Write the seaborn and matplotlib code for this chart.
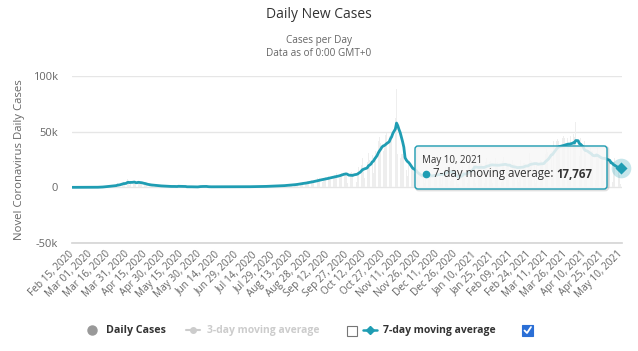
import numpy as np
import pandas as pd
import matplotlib.pyplot as plt
import seaborn as sns
from matplotlib.patches import FancyBboxPatch, Rectangle
from matplotlib.lines import Line2D
from matplotlib.text import Annotation

# daily new cases, one row per week, starting Sat Feb 15, 2020
daily_cases = [
    0, 0, 0, 0, 0, 0, 0,
    0, 0, 0, 2, 4, 20, 19,
    43, 30, 61, 21, 73, 138, 190,
    93, 286, 372, 497, 595, 785, 838,
    924, 1210, 1097, 1404, 1861, 1617, 1847,
    1559, 1559, 3838, 2446, 2931, 3922, 3809,
    4611, 2599, 4376, 7578, 4861, 2116, 5233,
    4300, 4000, 5000, 4300, 3900, 5000, 4300,
    3500, 2900, 2700, 2600, 2500, 2300, 2200,
    2000, 1800, 1500, 1800, 1600, 1500, 1400,
    1300, 1100, 900, 1200, 1100, 1000, 900,
    800, 600, 500, 900, 1000, 1100, 900,
    600, 400, 300, 2200, 800, 600, 500,
    500, 300, 500, 400, 600, 700, 500,
    400, 300, 200, 300, 400, 600, 1800,
    1100, 900, 300, 400, 500, 700, 600,
    500, 400, 300, 400, 500, 600, 500,
    400, 300, 200, 400, 500, 600, 500,
    500, 400, 300, 500, 600, 700, 500,
    500, 400, 300, 600, 700, 800, 600,
    600, 400, 300, 600, 700, 800, 600,
    700, 500, 400, 700, 800, 900, 700,
    900, 600, 500, 900, 1100, 1200, 1000,
    1300, 900, 800, 1300, 1400, 1600, 1300,
    1600, 1100, 900, 1600, 1800, 2000, 1800,
    2200, 1500, 1200, 2200, 2500, 2800, 2600,
    3200, 2400, 2000, 3400, 3800, 4200, 3900,
    4500, 3300, 2800, 4700, 5400, 6000, 5500,
    6500, 4500, 3500, 6200, 7000, 8000, 7500,
    8500, 6000, 5000, 7500, 8800, 9500, 9000,
    10500, 8000, 6500, 9500, 10500, 11000, 10500,
    13000, 9500, 8000, 12000, 13000, 14000, 13000,
    14000, 10500, 4000, 8000, 12500, 13500, 12500,
    17000, 12500, 5000, 10500, 18500, 18000, 20000,
    26000, 16000, 8000, 12500, 22500, 30500, 25000,
    32000, 29000, 13000, 26000, 33000, 41000, 42000,
    45000, 40000, 26000, 33000, 36000, 47000, 49000,
    50000, 46000, 44000, 46000, 58000, 60000, 62000,
    88000, 30000, 20000, 26000, 30000, 30000, 28000,
    22000, 16000, 10000, 20000, 20000, 18000, 17000,
    15000, 12000, 5000, 9000, 13000, 12500, 11000,
    10000, 11000, 4000, 8000, 14000, 12500, 11000,
    12000, 11000, 3500, 11000, 14000, 13500, 13500,
    14000, 12000, 3000, 11500, 17000, 18000, 15000,
    18000, 12000, 5500, 12000, 15000, 17000, 4000,
    12000, 3000, 3000, 11000, 20000, 19000, 16000,
    12000, 3000, 4000, 20000, 25000, 21000, 20000,
    21000, 17000, 4000, 19000, 23000, 21000, 21000,
    21000, 16000, 4000, 23000, 26000, 23000, 23000,
    24000, 18000, 4000, 22000, 26000, 22000, 23000,
    24000, 19000, 4500, 24000, 27000, 23000, 22000,
    20500, 19000, 4000, 18000, 25000, 21000, 21000,
    19000, 16000, 4500, 18800, 25000, 22000, 22000,
    22000, 20000, 4000, 20000, 31000, 25000, 24000,
    23000, 22000, 4000, 20000, 27000, 26000, 25000,
    24000, 22000, 6000, 30000, 34000, 32000, 33000,
    36000, 33000, 8000, 42000, 44000, 42000, 43000,
    42000, 36000, 10000, 44000, 46000, 44000, 46000,
    44000, 38000, 10000, 46000, 48000, 48000, 45000,
    59000, 38000, 9000, 28000, 44000, 40000, 38000,
    42000, 30000, 8000, 24000, 38000, 35000, 33000,
    33000, 28000, 7000, 30000, 35000, 30000, 28000,
    28000, 25000, 6000, 31000, 30000, 27000, 26000,
    24000, 10000, 4500, 21000, 26000, 22000, 21000,
    20000, 11500, 2869,
]

tick_labels = [
    "Feb 15, 2020", "Mar 01, 2020", "Mar 16, 2020", "Mar 31, 2020",
    "Apr 15, 2020", "Apr 30, 2020", "May 15, 2020", "May 30, 2020",
    "Jun 14, 2020", "Jun 29, 2020", "Jul 14, 2020", "Jul 29, 2020",
    "Aug 13, 2020", "Aug 28, 2020", "Sep 12, 2020", "Sep 27, 2020",
    "Oct 12, 2020", "Oct 27, 2020", "Nov 11, 2020", "Nov 26, 2020",
    "Dec 11, 2020", "Dec 26, 2020", "Jan 10, 2021", "Jan 25, 2021",
    "Feb 09, 2021", "Feb 24, 2021", "Mar 11, 2021", "Mar 26, 2021",
    "Apr 10, 2021", "Apr 25, 2021", "May 10, 2021",
]
y_ticks = [-50000, 0, 50000, 100000]
y_tick_labels = ["-50k", "0", "50k", "100k"]

TEAL = "#1f9db3"
W, H = 638, 351


def fx(x):
    return x / W


def fy(y):
    return 1 - y / H


df = pd.DataFrame({"day": np.arange(len(daily_cases)), "cases": daily_cases})
df["avg7"] = df["cases"].rolling(7, min_periods=1).mean()

sns.set_theme(style="white")
plt.rcParams["font.family"] = ["Open Sans", "DejaVu Sans"]

fig = plt.figure(figsize=(W / 100, H / 100), dpi=100)
ax = fig.add_axes([fx(72), fy(243), (622 - 72) / W, (243 - 76) / H])

sns.barplot(data=df, x="day", y="cases", color="#eeeeee", width=0.6,
            linewidth=0, saturation=1, ax=ax)
sns.lineplot(data=df, x="day", y="avg7", color=TEAL, linewidth=2, ax=ax)

last = df.iloc[-1]
ax.scatter([last["day"]], [last["avg7"]], s=200, color=TEAL, alpha=0.25,
           linewidths=0, zorder=6, clip_on=False)
ax.scatter([last["day"]], [last["avg7"]], s=38, marker="D", color=TEAL,
           linewidths=0, zorder=7, clip_on=False)

ax.set_xlim(-0.3, 451)
ax.set_ylim(-50000, 100000)
ax.set_xticks(range(0, len(daily_cases), 15))
ax.set_xticklabels(tick_labels, rotation=45, ha="right", va="center",
                   rotation_mode="anchor", fontsize=7.2, color="#666666")
ax.set_yticks(y_ticks)
ax.set_yticklabels(y_tick_labels, fontsize=8, color="#666666")
ax.tick_params(axis="both", length=0)
ax.tick_params(axis="x", pad=7)
ax.tick_params(axis="y", pad=10)
ax.yaxis.grid(True, color="#e6e6e6", linewidth=1)
ax.xaxis.grid(False)
for side in ["top", "right", "left"]:
    ax.spines[side].set_visible(False)
ax.spines["bottom"].set_color("#d6d6d6")
ax.set_xlabel("")
ax.set_ylabel("Novel Coronavirus Daily Cases", fontsize=8.2, color="#666666")
ax.yaxis.set_label_coords(-0.086, 0.5)

# titles
fig.text(fx(319), fy(15), "Daily New Cases", ha="center", va="center",
         fontsize=10, color="#333333")
fig.text(fx(319), fy(41), "Cases per Day", ha="center", va="center",
         fontsize=7.2, color="#666666")
fig.text(fx(319), fy(54), "Data as of 0:00 GMT+0", ha="center", va="center",
         fontsize=7.2, color="#666666")

# tooltip
bx0, bx1, by0, by1 = 415, 607, 146, 189
shadow = FancyBboxPatch((fx(bx0 + 1), fy(by1 + 1)), (bx1 - bx0) / W, (by1 - by0) / H,
                        boxstyle="round,pad=0,rounding_size=0.0047", mutation_aspect=W / H,
                        transform=fig.transFigure, facecolor="none",
                        edgecolor=(0, 0, 0, 0.12), linewidth=2, zorder=9)
box = FancyBboxPatch((fx(bx0), fy(by1)), (bx1 - bx0) / W, (by1 - by0) / H,
                     boxstyle="round,pad=0,rounding_size=0.0047", mutation_aspect=W / H,
                     transform=fig.transFigure, facecolor=(0.97, 0.97, 0.97, 0.85),
                     edgecolor=TEAL, linewidth=1, zorder=10)
fig.add_artist(shadow)
fig.add_artist(box)
fig.text(fx(422), fy(160), "May 10, 2021", ha="left", va="center",
         fontsize=7, color="#333333", zorder=11)
fig.add_artist(Line2D([fx(426)], [fy(174)], marker="o", markersize=4.5,
                      color=TEAL, transform=fig.transFigure, zorder=11))
t1 = fig.text(fx(433), fy(174), "7-day moving average: ", ha="left", va="center",
              fontsize=8.3, color="#333333", zorder=11)
value = Annotation(f"{last['avg7']:,.0f}", xy=(1, 0.5), xycoords=t1, ha="left",
                   va="center", fontsize=8.3, fontweight="bold", color="#333333",
                   annotation_clip=False)
value.set_zorder(11)
fig.add_artist(value)

# legend
ly = 330
fig.add_artist(Line2D([fx(92)], [fy(ly)], marker="o", markersize=6.5,
                      color="#999999", transform=fig.transFigure))
fig.text(fx(106), fy(ly), "Daily Cases", ha="left", va="center",
         fontsize=7.7, fontweight="bold", color="#333333")
fig.add_artist(Line2D([fx(186), fx(200)], [fy(ly), fy(ly)], color="#cccccc",
                      linewidth=1.5, transform=fig.transFigure))
fig.add_artist(Line2D([fx(193)], [fy(ly)], marker="o", markersize=4,
                      color="#cccccc", transform=fig.transFigure))
fig.text(fx(207), fy(ly), "3-day moving average", ha="left", va="center",
         fontsize=7.5, fontweight="bold", color="#cccccc")
fig.add_artist(Rectangle((fx(347), fy(336)), 10 / W, 10 / H, facecolor="white",
                         edgecolor="#767676", linewidth=0.8, transform=fig.transFigure))
fig.add_artist(Line2D([fx(363), fx(377)], [fy(ly), fy(ly)], color=TEAL,
                      linewidth=1.8, transform=fig.transFigure))
fig.add_artist(Line2D([fx(370)], [fy(ly)], marker="D", markersize=4,
                      color=TEAL, transform=fig.transFigure))
fig.text(fx(383), fy(ly), "7-day moving average", ha="left", va="center",
         fontsize=7.5, fontweight="bold", color="#333333")
fig.add_artist(Rectangle((fx(522), fy(336)), 11 / W, 11 / H, facecolor="#2b6fd6",
                         edgecolor="#2b6fd6", linewidth=0.8, transform=fig.transFigure))
fig.add_artist(Line2D([fx(524.5), fx(527), fx(531)], [fy(330.5), fy(333), fy(327)],
                      color="white", linewidth=1.3, transform=fig.transFigure))

fig.savefig("out.png", dpi=100)
